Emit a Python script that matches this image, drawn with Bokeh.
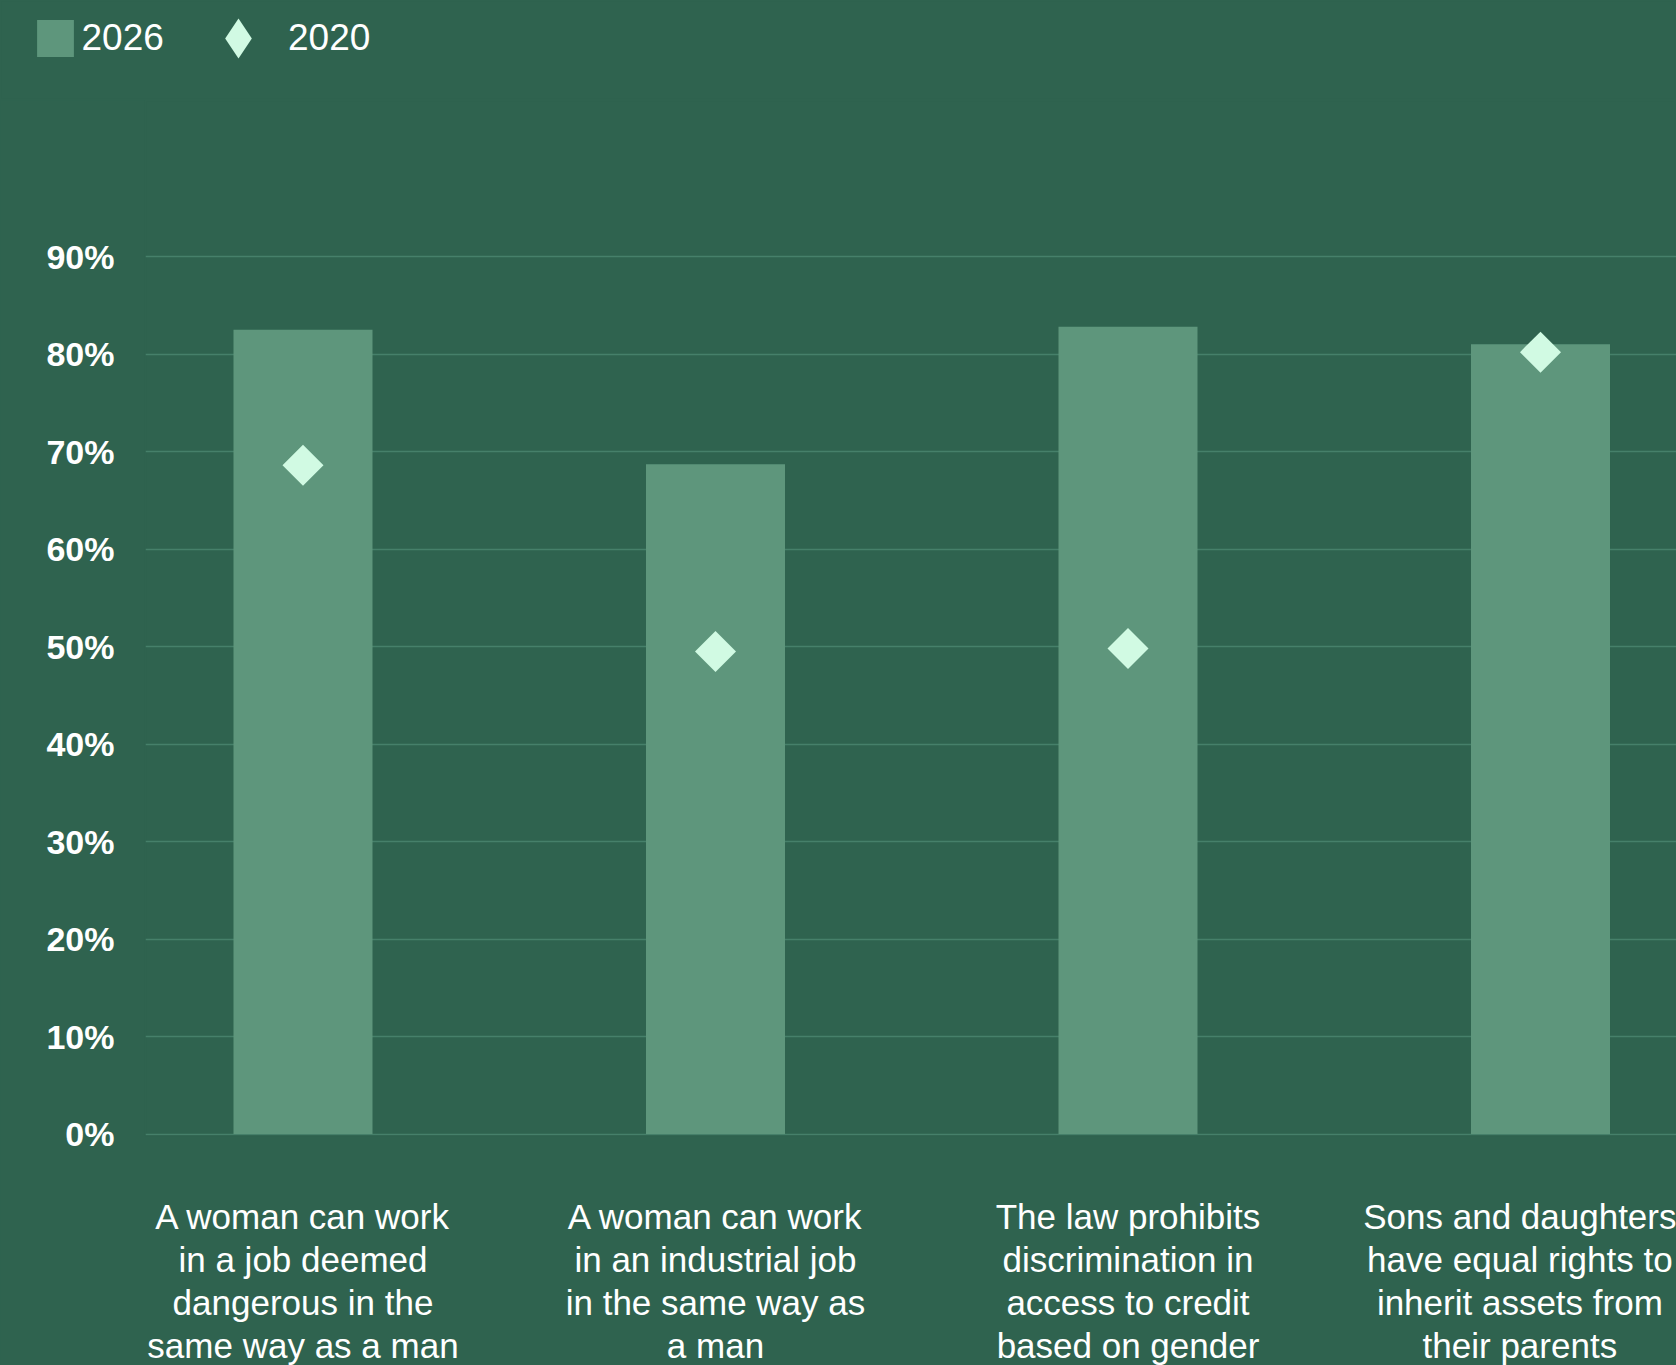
import math
from bokeh.plotting import figure
from bokeh.models import (ColumnDataSource, Range1d, FixedTicker, PrintfTickFormatter,
                          Legend, LegendItem)
from bokeh.embed import file_html
from bokeh.resources import INLINE

# ---- data ----
categories = [
    "A woman can work\nin a job deemed\ndangerous in the\nsame way as a man",
    "A woman can work\nin an industrial job\nin the same way as\na man",
    "The law prohibits\ndiscrimination in\naccess to credit\nbased on gender",
    "Sons and daughters\nhave equal rights to\ninherit assets from\ntheir parents",
]
values_2026 = [82.5, 68.7, 82.8, 81.0]
values_2020 = [68.6, 49.5, 49.8, 80.2]
y_ticks = [0, 10, 20, 30, 40, 50, 60, 70, 80, 90]

BG = "#2F634F"
BAR = "#5E967C"
DIAM = "#D1FAE3"
GRID = "#46806A"
TXT = "#FFFFFF"

xpos = list(range(len(categories)))
src = ColumnDataSource(dict(x=xpos, v26=values_2026, v20=values_2020))

W = 1676
LEG_H = 100

# ---------- legend strip ----------
lg = figure(width=W, height=LEG_H, output_backend="svg", toolbar_location=None,
            x_range=Range1d(-20, -19), y_range=Range1d(0, 1),
            x_axis_location=None, y_axis_location=None,
            min_border=0, min_border_left=0, min_border_right=0,
            min_border_top=0, min_border_bottom=0)
lg.styles = {"background-color": BG}
lg.grid.visible = False
lg.background_fill_color = BG
lg.border_fill_color = BG
lg.outline_line_color = BG
lg.outline_line_width = 2
lg_bar = lg.vbar(x="x", top="v26", width=0.337, source=src, fill_color=BAR, line_color=None)
lg_dia = lg.scatter(x="x", y="v20", source=src, marker="diamond", size=0,
                    fill_color=DIAM, line_color=None)
common = dict(padding=0, margin=0, border_line_color=None, background_fill_alpha=0,
              label_text_font="Liberation Sans", label_text_font_size="37px",
              label_text_color=TXT, inactive_fill_alpha=0)
leg_a = Legend(items=[LegendItem(label="2026", renderers=[lg_bar])],
               location=(31.5, 39.5), glyph_width=46, glyph_height=46,
               label_standoff=4, **common)
leg_b = Legend(items=[LegendItem(label="2020", renderers=[lg_dia])],
               location=(188, 12), glyph_width=100, glyph_height=100,
               label_standoff=-20, **common)
lg.add_layout(leg_a)
lg.add_layout(leg_b)

# ---------- main chart ----------
p = figure(width=W, height=1268, output_backend="svg", toolbar_location=None,
           x_range=Range1d(-0.3818, 3.3297), y_range=Range1d(-0.15, 106.01),
           min_border_left=145, min_border_right=0, min_border_top=0,
           min_border_bottom=200)
p.styles = {"background-color": BG}
p.background_fill_color = BG
p.border_fill_color = BG
p.outline_line_color = BG
p.outline_line_width = 2

p.vbar(x="x", top="v26", width=0.337, source=src, fill_color=BAR, line_color=None)
p.scatter(x="x", y="v20", source=src, marker="square", angle=math.pi / 4,
          size=29, fill_color=DIAM, line_color=None)

p.xaxis.ticker = FixedTicker(ticks=xpos)
p.xaxis.major_label_overrides = {i: c for i, c in enumerate(categories)}
p.xaxis.axis_line_color = None
p.xaxis.major_tick_line_color = None
p.xaxis.minor_tick_line_color = None
p.xaxis.major_tick_out = 0
p.xaxis.major_label_standoff = 61
p.xaxis.major_label_text_font = "Liberation Sans"
p.xaxis.major_label_text_font_size = "35px"
p.xaxis.major_label_text_color = TXT
p.xaxis.major_label_text_line_height = 1.11

p.yaxis.ticker = FixedTicker(ticks=y_ticks)
p.yaxis.formatter = PrintfTickFormatter(format="%d%%")
p.yaxis.axis_line_color = None
p.yaxis.major_tick_line_color = None
p.yaxis.minor_tick_line_color = None
p.yaxis.major_tick_out = 0
p.yaxis.major_label_standoff = 31
p.yaxis.major_label_text_font = "Liberation Sans"
p.yaxis.major_label_text_font_style = "bold"
p.yaxis.major_label_text_font_size = "34px"
p.yaxis.major_label_text_color = TXT

p.xgrid.grid_line_color = None
p.ygrid.grid_line_color = GRID
p.ygrid.grid_line_width = 1.5

open("out.html", "w").write(file_html([lg, p], INLINE))
